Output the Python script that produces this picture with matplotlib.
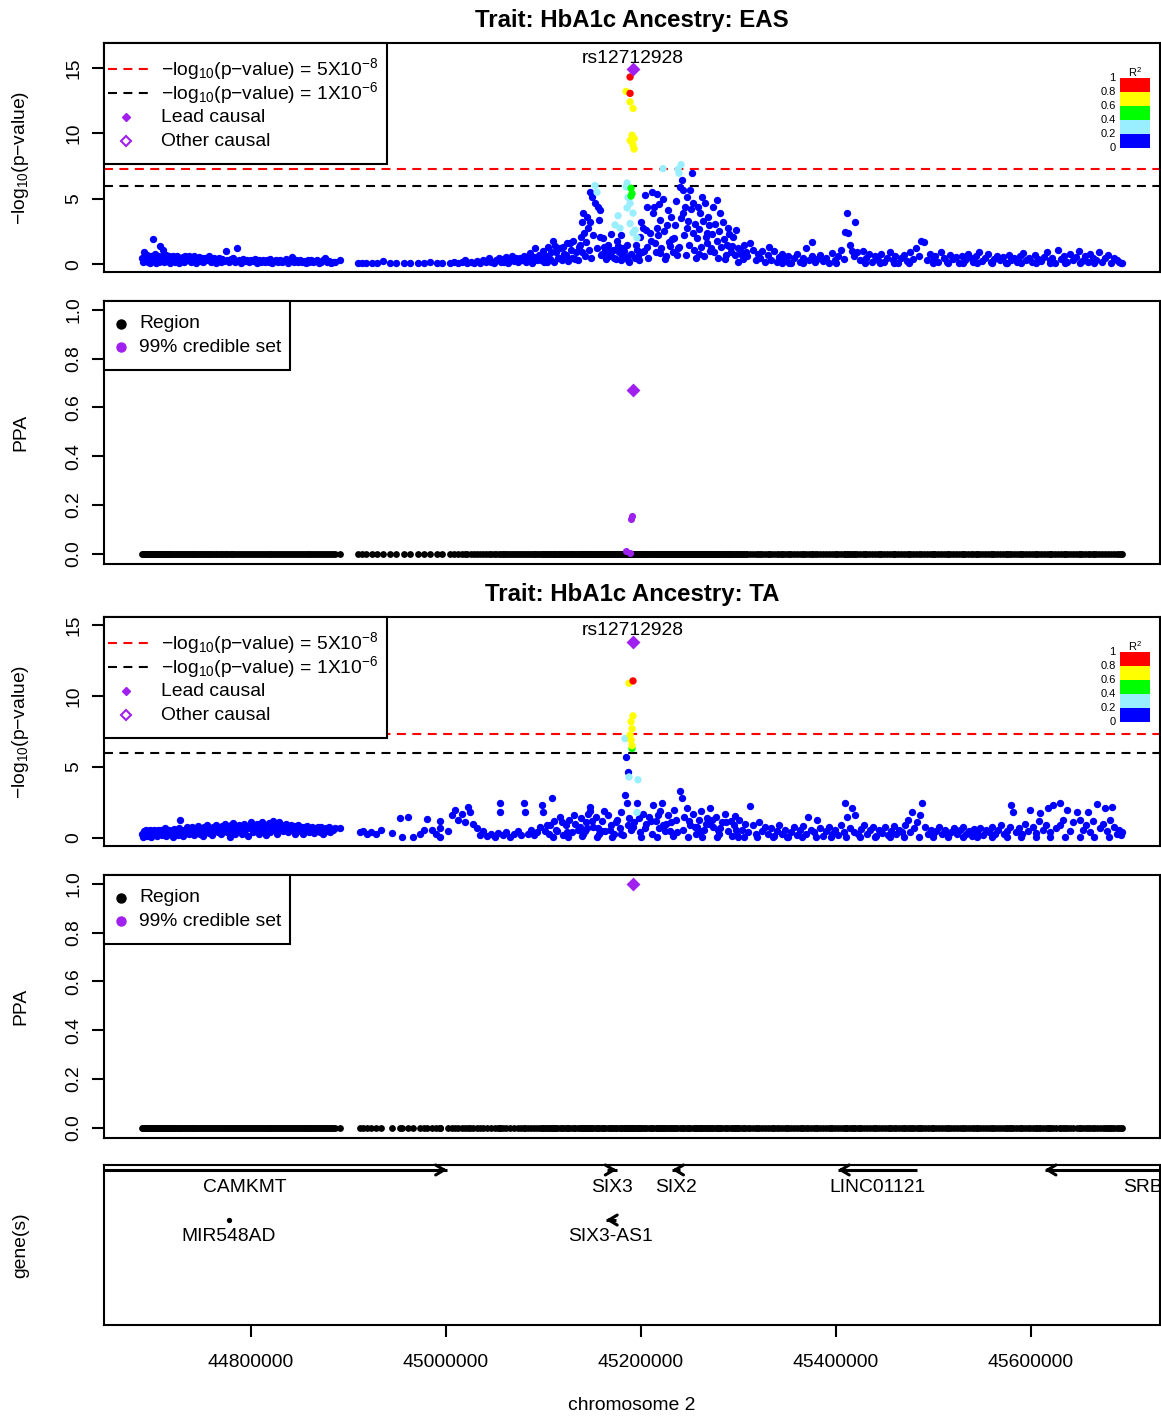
import numpy as np
import matplotlib
matplotlib.use('Agg')
import matplotlib.pyplot as plt
from matplotlib.patches import Rectangle

plt.rcParams['font.family'] = ['Liberation Sans', 'DejaVu Sans']
plt.rcParams['mathtext.fontset'] = 'custom'
plt.rcParams['mathtext.rm'] = 'Liberation Sans'
plt.rcParams['mathtext.it'] = 'Liberation Sans:italic'
plt.rcParams['mathtext.bf'] = 'Liberation Sans:bold'

# ---------------- data (positions in kb, chromosome 2) ----------------
lead_snp = 'rs12712928'
lead_pos = 45191.8

# EAS: SNPs with r2 < 0.2 (blue)
eas_pos = [
    44688, 44689, 44690, 44691, 44692, 44693, 44694, 44695, 44696, 44697,
    44698, 44699, 44700, 44701, 44702, 44703, 44704, 44705, 44706, 44707,
    44708, 44709, 44710, 44711, 44712, 44713, 44714, 44715, 44716, 44717,
    44718, 44719, 44720, 44722, 44723, 44724, 44726, 44727, 44728, 44730,
    44731, 44732, 44734, 44735, 44736, 44738, 44739, 44741, 44742, 44744,
    44745, 44747, 44748, 44750, 44751, 44753, 44754, 44756, 44757, 44759,
    44760, 44762, 44764, 44765, 44767, 44769, 44770, 44772, 44774, 44775,
    44777, 44779, 44781, 44782, 44784, 44786, 44788, 44790, 44792, 44794,
    44796, 44798, 44800, 44802, 44804, 44806, 44808, 44810, 44812, 44814,
    44816, 44818, 44820, 44822, 44824, 44826, 44828, 44830, 44832, 44834,
    44836, 44838, 44840, 44842, 44844, 44846, 44848, 44850, 44852, 44854,
    44856, 44858, 44860, 44862, 44864, 44866, 44868, 44870, 44872, 44874,
    44876, 44878, 44880, 44882, 44884, 44886, 44891, 44910, 44914, 44918,
    44924, 44929, 44935, 44943, 44949, 44957, 44963, 44971, 44977, 44984,
    44991, 44996, 45004, 45008, 45012, 45016, 45019, 45022, 45026, 45029,
    45032, 45035, 45038, 45041, 45044, 45046, 45049, 45051, 45054, 45056,
    45058, 45060, 45062, 45064, 45066, 45068, 45070, 45072, 45074, 45076,
    45078, 45080, 45082, 45084, 45086, 45088, 45090, 45091, 45093, 45095,
    45097, 45099, 45101, 45103, 45105, 45107, 45110, 45111, 45113, 45115,
    45117, 45119, 45120, 45123, 45125, 45127, 45129, 45130, 45133, 45135,
    45137, 45138, 45139, 45141, 45143, 45145, 45147, 45148, 45150, 45153,
    45148, 45156, 45158, 45158, 45160, 45162, 45164, 45166, 45168, 45170,
    45165, 45172, 45175, 45177, 45180, 45182, 45184, 45186, 45188, 45190,
    45194, 45196, 45199, 45202, 45204, 45206, 45206, 45209, 45211, 45212,
    45216, 45216, 45219, 45220, 45223, 45227, 45230, 45235, 45237, 45240,
    45242, 45243, 45243, 45245, 45247, 45247, 45250, 45252, 45253, 45253,
    45258, 45261, 45263, 45266, 45268, 45268, 45269, 45274, 45278, 45278,
    45281, 45284, 45289, 45294, 45297, 45300, 45303, 45306, 45309, 45312,
    45198, 45201, 45214, 45225, 45232, 45238, 45256, 45271, 45286, 45291,
    45296, 45299, 45302, 45305, 45308, 45315, 45318, 45320, 45322, 45324,
    45100, 45104, 45108, 45112, 45116, 45121, 45124, 45128, 45132, 45136,
    45140, 45142, 45144, 45146, 45149, 45151, 45155, 45157, 45159, 45161,
    45163, 45167, 45169, 45171, 45174, 45176, 45179, 45181, 45183, 45187,
    45195, 45197, 45200, 45203, 45205, 45207, 45210, 45213, 45215, 45217,
    45218, 45221, 45224, 45226, 45228, 45229, 45231, 45233, 45234, 45236,
    45239, 45241, 45244, 45246, 45248, 45249, 45251, 45254, 45255, 45257,
    45259, 45260, 45262, 45264, 45265, 45267, 45270, 45272, 45273, 45275,
    45276, 45279, 45280, 45282, 45285, 45287, 45288, 45290, 45292, 45293,
    45327, 45330, 45333, 45336, 45339, 45342, 45345, 45348, 45351, 45354,
    45357, 45360, 45363, 45366, 45369, 45372, 45375, 45378, 45381, 45384,
    45387, 45390, 45393, 45396, 45399, 45402, 45405, 45408, 45409, 45411,
    45412, 45414, 45416, 45418, 45420, 45422, 45425, 45428, 45431, 45434,
    45437, 45440, 45443, 45446, 45449, 45452, 45455, 45458, 45461, 45464,
    45467, 45470, 45473, 45476, 45479, 45482, 45485, 45487, 45490, 45493,
    45496, 45499, 45502, 45505, 45508, 45511, 45514, 45517, 45520, 45523,
    45526, 45529, 45532, 45535, 45538, 45541, 45544, 45547, 45550, 45553,
    45556, 45559, 45562, 45565, 45568, 45571, 45574, 45577, 45580, 45583,
    45586, 45589, 45592, 45595, 45598, 45601, 45604, 45607, 45610, 45613,
    45616, 45619, 45622, 45625, 45628, 45631, 45634, 45637, 45640, 45643,
    45646, 45649, 45652, 45655, 45658, 45661, 45664, 45667, 45670, 45673,
    45676, 45679, 45682, 45685, 45688, 45690, 45692, 45693, 45331, 45345,
    45352, 45366, 45375, 45400, 45430, 45445, 45460, 45475, 45500, 45515,
    45530, 45545, 45560, 45575, 45590, 45605, 45620, 45635, 45650, 45665,
]
eas_logp = [
    0.45, 0.15, 0.95, 0.6, 0.3, 0.7, 0.2, 0.5, 0.1, 0.65,
    0.35, 1.9, 0.55, 0.25, 0.75, 0.1, 0.45, 0.6, 0.2, 1.4,
    0.3, 0.65, 1.05, 0.15, 0.5, 0.7, 0.25, 0.4, 0.6, 0.1,
    0.55, 0.3, 0.65, 0.2, 0.45, 0.6, 0.1, 0.5, 0.35, 0.55,
    0.15, 0.6, 0.3, 0.45, 0.65, 0.2, 0.5, 0.35, 0.6, 0.1,
    0.4, 0.55, 0.25, 0.45, 0.15, 0.5, 0.3, 0.4, 0.6, 0.2,
    0.35, 0.45, 0.1, 0.3, 0.5, 0.2, 0.4, 0.25, 1.0, 0.35,
    0.15, 0.4, 0.3, 0.45, 0.2, 1.2, 0.35, 0.1, 0.4, 0.25,
    0.3, 0.15, 0.35, 0.25, 0.4, 0.1, 0.3, 0.2, 0.35, 0.15,
    0.3, 0.2, 0.4, 0.1, 0.25, 0.35, 0.15, 0.3, 0.2, 0.25,
    0.4, 0.1, 0.25, 0.55, 0.2, 0.3, 0.15, 0.35, 0.2, 0.25,
    0.1, 0.3, 0.2, 0.35, 0.15, 0.25, 0.3, 0.1, 0.2, 0.3,
    0.45, 0.15, 0.25, 0.1, 0.2, 0.15, 0.35, 0.05, 0.08, 0.05,
    0.1, 0.06, 0.25, 0.05, 0.08, 0.06, 0.1, 0.05, 0.07, 0.2,
    0.05, 0.1, 0.1, 0.2, 0.05, 0.15, 0.3, 0.1, 0.2, 0.05,
    0.25, 0.1, 0.35, 0.15, 0.45, 0.2, 0.1, 0.3, 0.5, 0.15,
    0.4, 0.2, 0.55, 0.1, 0.35, 0.6, 0.25, 0.45, 0.15, 0.5,
    0.3, 0.65, 0.2, 0.45, 0.85, 0.1, 0.55, 1.2, 0.35, 0.7,
    0.3, 1.0, 0.15, 0.6, 1.3, 0.4, 1.8, 0.2, 0.9, 0.5,
    1.2, 0.35, 1.3, 0.7, 0.25, 1.6, 0.5, 1.8, 0.9, 0.3,
    1.5, 2.1, 3.2, 3.9, 0.6, 3.6, 1.1, 5.5, 5.1, 4.7,
    3.2, 4.35, 4.1, 2.1, 0.8, 1.3, 0.4, 1.5, 0.7, 1.0,
    1.3, 0.5, 1.8, 0.9, 0.3, 1.2, 0.6, 1.5, 0.2, 0.8,
    0.5, 1.1, 2.1, 2.8, 5.3, 4.35, 1.3, 2.4, 5.5, 3.9,
    5.35, 2.8, 3.4, 0.85, 5.0, 3.0, 1.4, 3.0, 0.7, 5.9,
    6.4, 5.65, 3.9, 4.35, 5.1, 2.8, 5.65, 7.0, 4.65, 2.4,
    4.35, 3.9, 5.1, 4.65, 2.4, 1.6, 3.6, 4.35, 4.9, 1.8,
    3.9, 3.2, 2.8, 2.1, 2.6, 1.2, 0.8, 1.5, 0.6, 1.6,
    0.3, 0.9, 1.6, 0.4, 1.9, 1.2, 0.5, 1.0, 0.4, 1.3,
    0.7, 0.2, 1.1, 0.4, 0.9, 1.07, 0.3, 0.8, 0.5, 1.0,
    0.6, 0.2, 0.9, 1.4, 0.5, 0.8, 1.6, 1.1, 0.4, 1.3,
    0.9, 2.4, 1.7, 2.8, 0.5, 2.2, 1.2, 3.4, 0.7, 2.0,
    1.0, 0.6, 2.3, 1.1, 0.4, 1.4, 2.2, 0.7, 1.0, 0.3,
    1.5, 0.6, 3.2, 1.0, 2.6, 0.5, 1.8, 4.4, 0.9, 2.2,
    4.6, 1.2, 2.5, 0.6, 4.1, 1.7, 3.6, 0.9, 2.0, 4.8,
    1.3, 3.5, 2.2, 0.7, 3.3, 1.5, 4.2, 1.1, 3.1, 2.0,
    0.8, 2.7, 1.3, 3.3, 0.6, 2.1, 3.0, 1.2, 2.3, 0.9,
    3.1, 0.5, 2.5, 1.3, 1.9, 0.7, 1.5, 2.3, 0.9, 1.4,
    0.2, 0.7, 0.35, 1.0, 0.15, 0.55, 0.8, 0.3, 0.6, 0.1,
    0.45, 0.75, 0.2, 0.5, 1.2, 0.3, 0.6, 0.15, 0.4, 0.7,
    0.25, 0.5, 0.1, 0.85, 0.3, 0.6, 1.1, 0.4, 2.45, 3.9,
    2.4, 1.5, 1.0, 0.6, 3.2, 0.9, 0.3, 1.0, 0.5, 0.8,
    0.2, 0.6, 0.35, 0.75, 0.15, 0.5, 0.9, 0.3, 0.65, 0.1,
    0.45, 0.7, 0.25, 0.9, 0.4, 1.2, 0.6, 1.8, 1.7, 0.3,
    0.8, 0.35, 0.6, 0.15, 0.9, 0.5, 0.2, 0.7, 0.4, 0.55,
    0.1, 0.65, 0.3, 0.8, 0.45, 0.2, 0.6, 0.9, 0.25, 0.5,
    0.75, 0.15, 0.4, 0.65, 0.3, 0.55, 0.1, 0.7, 0.35, 0.5,
    0.2, 0.6, 0.85, 0.3, 0.45, 0.15, 0.7, 0.4, 0.25, 0.55,
    0.9, 0.3, 0.5, 0.1, 1.1, 0.4, 0.65, 0.2, 0.75, 0.35,
    0.55, 1.0, 0.25, 0.6, 0.15, 0.8, 0.45, 0.3, 0.95, 0.2,
    0.5, 0.7, 0.1, 0.45, 0.3, 0.15, 0.05, 0.1, 1.3, 0.05,
    0.05, 0.1, 1.7, 0.05, 0.1, 0.05, 0.1, 0.05, 0.05, 0.1,
    0.05, 0.1, 0.05, 0.1, 0.05, 0.1, 0.05, 0.1, 0.05, 0.1,
]
# EAS: SNPs in LD with the lead
eas_ld_pos = [45152.8, 45154.9, 45185.7, 45184.7, 45186.7, 45188.8, 45185.7, 45176.5,
              45191.8, 45188.8, 45173.4, 45178.5, 45193.9, 45195.9, 45191.8, 45222.6,
              45241.1, 45238.0, 45239.0, 45189.8, 45190.8, 45189.8, 45184.7, 45188.8,
              45191.8, 45190.8, 45192.9, 45188.8, 45191.8, 45192.9, 45188.8, 45188.8]
eas_ld_logp = [6.0, 5.5, 6.2, 5.9, 5.1, 4.65, 4.3, 3.7,
               3.9, 3.1, 3.0, 2.75, 2.6, 2.0, 2.4, 7.3,
               7.6, 7.25, 6.95, 5.8, 5.4, 5.2, 13.2, 12.4,
               11.9, 9.85, 9.6, 9.45, 9.1, 8.8, 14.3, 13.05]
eas_ld_r2 = [0.3, 0.3, 0.3, 0.3, 0.3, 0.3, 0.3, 0.3,
             0.3, 0.3, 0.3, 0.3, 0.3, 0.3, 0.3, 0.3,
             0.3, 0.3, 0.3, 0.5, 0.5, 0.5, 0.7, 0.7,
             0.7, 0.7, 0.7, 0.7, 0.7, 0.7, 0.9, 0.9]
eas_lead_logp = 14.9
eas_lead_ppa = 0.67
eas_cs_pos = [45185.0, 45188.5, 45189.5, 45190.8]
eas_cs_ppa = [0.012, 0.004, 0.14, 0.156]

# TA: SNPs with r2 < 0.2 (blue)
ta_pos = [
    44688, 44689, 44690, 44691, 44692, 44693, 44694, 44695, 44696, 44697,
    44698, 44699, 44700, 44701, 44702, 44703, 44704, 44705, 44706, 44707,
    44708, 44709, 44710, 44711, 44712, 44713, 44714, 44715, 44716, 44717,
    44718, 44719, 44720, 44721, 44722, 44723, 44725, 44726, 44727, 44728,
    44730, 44731, 44733, 44734, 44736, 44737, 44739, 44740, 44742, 44743,
    44745, 44746, 44748, 44749, 44751, 44752, 44754, 44755, 44757, 44758,
    44760, 44761, 44763, 44764, 44766, 44767, 44769, 44770, 44772, 44773,
    44775, 44776, 44778, 44779, 44781, 44782, 44784, 44785, 44787, 44788,
    44790, 44791, 44793, 44794, 44796, 44797, 44799, 44800, 44802, 44803,
    44805, 44806, 44808, 44809, 44811, 44812, 44814, 44815, 44817, 44818,
    44820, 44821, 44823, 44824, 44826, 44827, 44829, 44830, 44832, 44833,
    44835, 44836, 44838, 44839, 44841, 44842, 44844, 44845, 44847, 44848,
    44850, 44851, 44853, 44854, 44856, 44857, 44859, 44860, 44862, 44863,
    44865, 44866, 44868, 44869, 44871, 44872, 44874, 44875, 44877, 44878,
    44880, 44881, 44883, 44884, 44886, 44891, 44912, 44915, 44919, 44923,
    44928, 44933, 44945, 44953, 44955, 44961, 44966, 44973, 44977, 44981,
    44986, 44990, 44994, 44994, 44994, 45002, 45006, 45009, 45012, 45016,
    45019, 45023, 45025, 45028, 45032, 45035, 45038, 45042, 45046, 45050,
    45053, 45055, 45055, 45058, 45062, 45066, 45070, 45074, 45077, 45080,
    45081, 45084, 45087, 45090, 45093, 45096, 45098, 45100, 45102, 45104,
    45106, 45109, 45111, 45114, 45117, 45120, 45123, 45126, 45129, 45132,
    45135, 45138, 45141, 45144, 45146, 45148, 45148, 45151, 45154, 45157,
    45160, 45163, 45166, 45169, 45172, 45175, 45178, 45180, 45184, 45186,
    45188, 45190, 45193, 45196, 45199, 45202, 45205, 45208, 45211, 45212,
    45215, 45218, 45220, 45222, 45225, 45228, 45231, 45234, 45237, 45240,
    45242, 45244, 45247, 45250, 45253, 45256, 45259, 45262, 45265, 45268,
    45271, 45274, 45277, 45280, 45283, 45286, 45289, 45292, 45295, 45298,
    45301, 45304, 45307, 45310, 45312, 45315, 45318, 45321, 45324, 45327,
    45110, 45125, 45140, 45155, 45170, 45182, 45200, 45216, 45233, 45248,
    45263, 45278, 45293, 45306, 45319, 45145, 45160, 45187, 45226, 45257,
    45107, 45113, 45119, 45124, 45131, 45137, 45143, 45150, 45156, 45162,
    45168, 45174, 45179, 45192, 45198, 45204, 45210, 45217, 45223, 45230,
    45236, 45243, 45249, 45255, 45261, 45267, 45273, 45281, 45287, 45297,
    45330, 45333, 45336, 45339, 45342, 45345, 45348, 45351, 45354, 45357,
    45360, 45363, 45366, 45369, 45371, 45374, 45377, 45381, 45384, 45387,
    45390, 45393, 45396, 45399, 45402, 45405, 45408, 45409, 45411, 45414,
    45416, 45418, 45420, 45423, 45426, 45429, 45432, 45435, 45438, 45441,
    45444, 45447, 45450, 45453, 45456, 45459, 45462, 45465, 45468, 45471,
    45474, 45476, 45478, 45480, 45483, 45486, 45488, 45491, 45494, 45497,
    45500, 45503, 45506, 45509, 45512, 45515, 45518, 45521, 45524, 45527,
    45530, 45533, 45536, 45539, 45542, 45545, 45548, 45551, 45554, 45557,
    45560, 45563, 45566, 45569, 45572, 45575, 45578, 45580, 45582, 45585,
    45588, 45591, 45594, 45597, 45599, 45602, 45605, 45608, 45609, 45612,
    45615, 45617, 45620, 45623, 45626, 45630, 45630, 45633, 45637, 45640,
    45643, 45647, 45650, 45653, 45656, 45658, 45661, 45664, 45668, 45671,
    45674, 45676, 45678, 45681, 45683, 45685, 45688, 45690, 45692, 45693,
    45335, 45350, 45365, 45380, 45395, 45410, 45425, 45440, 45455, 45470,
    45485, 45500, 45515, 45530, 45545, 45560, 45575, 45590, 45605, 45620,
    45635, 45650, 45665, 45680, 45296, 45270, 45185, 45187, 45279, 45300,
]
ta_logp = [
    0.3, 0.1, 0.5, 0.2, 0.6, 0.15, 0.4, 0.25, 0.55, 0.1,
    0.35, 0.5, 0.2, 0.6, 0.3, 0.45, 0.15, 0.55, 0.25, 0.4,
    0.6, 0.2, 0.5, 0.35, 0.7, 0.15, 0.45, 0.3, 0.6, 0.25,
    0.5, 0.4, 0.1, 0.65, 0.3, 0.55, 0.2, 0.7, 1.27, 0.45,
    0.15, 0.6, 0.35, 0.75, 0.25, 0.55, 0.4, 0.8, 0.2, 0.65,
    0.45, 0.85, 0.3, 0.6, 0.15, 0.75, 0.5, 0.9, 0.35, 0.65,
    0.2, 0.8, 0.55, 0.95, 0.4, 0.7, 0.25, 0.85, 0.6, 1.0,
    0.45, 0.75, 0.1, 0.9, 0.6, 1.05, 0.3, 0.8, 0.5, 0.95,
    0.65, 0.25, 1.0, 0.55, 0.85, 0.15, 0.7, 1.1, 0.4, 0.9,
    0.6, 1.0, 0.3, 0.8, 1.15, 0.5, 0.9, 0.2, 0.75, 1.05,
    0.45, 0.95, 1.2, 0.6, 0.85, 0.3, 1.1, 0.7, 0.9, 0.5,
    0.8, 1.0, 0.4, 0.75, 0.95, 0.55, 0.85, 0.25, 0.7, 0.9,
    0.5, 0.8, 0.3, 0.75, 0.6, 0.85, 0.4, 0.7, 0.55, 0.8,
    0.35, 0.7, 0.6, 0.8, 0.45, 0.75, 0.3, 0.65, 0.7, 0.5,
    0.75, 0.4, 0.65, 0.55, 0.7, 0.7, 0.4, 0.5, 0.3, 0.45,
    0.3, 0.55, 0.35, 1.4, 0.05, 1.5, 0.1, 0.3, 0.6, 1.35,
    0.55, 0.3, 1.2, 0.7, 0.1, 0.5, 1.6, 2.0, 1.3, 1.7,
    1.1, 2.2, 1.8, 1.0, 0.7, 0.2, 0.5, 0.15, 0.3, 0.1,
    0.35, 2.45, 1.85, 0.2, 0.4, 0.1, 0.3, 0.5, 0.2, 2.45,
    1.85, 0.3, 0.6, 0.2, 0.45, 0.8, 2.3, 1.8, 0.5, 0.9,
    0.3, 2.8, 1.2, 0.5, 1.5, 0.2, 0.9, 1.3, 0.4, 1.0,
    0.6, 1.4, 0.3, 1.1, 1.7, 2.2, 1.9, 0.8, 1.5, 0.25,
    1.2, 0.5, 1.6, 0.9, 0.3, 1.3, 0.7, 1.8, 3.0, 2.5,
    1.4, 0.6, 1.1, 2.5, 0.4, 1.7, 1.0, 1.5, 0.3, 2.3,
    1.2, 0.7, 1.9, 2.5, 0.5, 1.6, 1.1, 2.0, 0.4, 3.3,
    2.8, 1.5, 2.1, 0.9, 1.7, 0.3, 1.3, 1.9, 0.6, 1.4,
    2.1, 0.8, 1.5, 0.3, 1.1, 1.7, 0.5, 1.2, 0.9, 0.2,
    1.3, 0.6, 1.0, 0.4, 2.25, 0.9, 0.3, 1.1, 0.5, 0.8,
    0.1, 0.05, 0.15, 0.1, 0.05, 0.2, 0.1, 0.05, 0.15, 0.1,
    0.05, 0.1, 0.15, 0.05, 0.1, 0.7, 0.5, 0.9, 1.0, 0.8,
    0.9, 0.6, 1.1, 0.4, 1.6, 0.8, 0.5, 1.2, 0.7, 1.9,
    0.6, 1.1, 0.3, 0.8, 1.4, 0.7, 1.2, 1.6, 0.9, 0.5,
    1.3, 0.6, 1.2, 0.8, 0.5, 1.0, 1.3, 0.7, 1.1, 0.6,
    0.3, 0.7, 0.15, 0.5, 0.9, 0.25, 0.6, 0.1, 0.45, 0.75,
    0.2, 0.55, 0.85, 0.3, 1.5, 0.6, 0.4, 1.3, 0.7, 0.15,
    0.5, 0.8, 0.3, 0.6, 0.2, 0.9, 0.45, 2.45, 1.5, 0.7,
    2.1, 0.4, 1.6, 0.25, 0.65, 0.9, 0.3, 0.55, 0.8, 0.15,
    0.6, 0.35, 0.75, 0.2, 0.5, 0.85, 0.3, 0.6, 0.45, 0.9,
    1.3, 0.4, 1.8, 0.7, 1.1, 1.6, 2.45, 0.8, 0.3, 0.6,
    0.2, 0.5, 0.75, 0.3, 0.6, 0.15, 0.45, 0.7, 0.25, 0.55,
    0.8, 0.3, 0.5, 0.15, 0.65, 0.35, 0.7, 0.2, 0.55, 0.4,
    0.75, 0.25, 0.6, 0.9, 0.3, 0.5, 0.8, 2.3, 1.85, 0.4,
    0.7, 0.3, 1.0, 0.5, 2.0, 0.8, 0.35, 1.2, 1.75, 0.6,
    0.9, 2.1, 0.4, 2.3, 0.7, 2.45, 0.9, 1.3, 2.0, 0.5,
    1.1, 1.85, 1.3, 0.6, 0.9, 1.85, 0.4, 1.2, 2.4, 0.7,
    1.0, 2.1, 0.5, 1.3, 2.2, 0.8, 0.3, 0.6, 0.2, 0.4,
    0.05, 0.1, 0.05, 0.1, 0.05, 0.1, 0.05, 0.1, 0.05, 0.1,
    0.05, 0.1, 0.05, 0.1, 0.05, 0.1, 0.05, 0.1, 0.05, 0.1,
    0.05, 0.1, 0.05, 0.1, 1.55, 1.0, 5.7, 4.65, 0.6, 0.1,
]
ta_ld_pos = [45183.6, 45187.7, 45196.9, 45195.9, 45190.8, 45187.7, 45191.8,
             45189.8, 45190.8, 45188.8, 45189.8, 45190.8, 45191.8]
ta_ld_logp = [7.0, 4.3, 4.1, 1.8, 6.3, 10.9, 8.6, 8.2, 7.7, 7.25, 6.9, 6.5, 11.06]
ta_ld_r2 = [0.3, 0.3, 0.3, 0.3, 0.5, 0.7, 0.7, 0.7, 0.7, 0.7, 0.7, 0.7, 0.9]
ta_lead_logp = 13.8
ta_lead_ppa = 1.0

# genes
gene_names = ['CAMKMT', 'SIX3', 'SIX2', 'LINC01121', 'SRBD1', 'MIR548AD', 'SIX3-AS1']
gene_start = [44587, 45165, 45232, 45402, 45614, 44777.3, 45164]
gene_end = [45001, 45175, 45240, 45483, 45841, 44777.5, 45174]
gene_strand = ['+', '+', '-', '-', '-', '+', '-']
gene_row = [1, 1, 1, 1, 1, 2, 2]

xticks = [44800000, 45000000, 45200000, 45400000, 45600000]

# ---------------- styling ----------------
FS = 13.9
PURPLE = '#A020F0'
R2_COLS = ['#0000FF', '#99EEFF', '#00FF00', '#FFFF00', '#FF0000']
DASH = (0, (4.3, 3.1))
XLIM = (44649231, 45732308)
W, H = 1161, 1418
AX_L, AX_R = 104, 1160

fig = plt.figure(figsize=(11.61, 14.18), dpi=100)


def add_axes_px(x0, y0, x1, y1):
    ax = fig.add_axes([x0 / W, 1 - y1 / H, (x1 - x0) / W, (y1 - y0) / H])
    ax.px_top, ax.px_bot = y0, y1
    return ax


def ax_xy(ax, x, y):
    # figure pixel -> axes fraction
    return (x - AX_L) / (AX_R - AX_L), (ax.px_bot - y) / (ax.px_bot - ax.px_top)


def base_style(ax):
    for s in ax.spines.values():
        s.set_linewidth(1.5)
    ax.set_xlim(XLIM)
    ax.tick_params(axis='both', length=8.6, width=1.5, labelsize=FS)
    ax.tick_params(axis='y', pad=7)
    ax.set_xticks([])


def set_rot_yticks(ax, ticks, labels):
    ax.set_yticks(ticks)
    ax.set_yticklabels(labels, rotation=90, va='center')


def legend_box(ax, x1, height):
    x0, y0 = ax_xy(ax, AX_L, ax.px_top + height)
    xr, yt = ax_xy(ax, x1, ax.px_top)
    ax.add_patch(Rectangle((x0, y0), xr - x0, yt - y0, transform=ax.transAxes,
                           fc='white', ec='black', lw=1.5, zorder=5, clip_on=False))


def manhattan(ax, pos, logp, ld_pos, ld_logp, ld_r2, lead_logp, ylim):
    base_style(ax)
    ax.set_ylim(ylim)
    set_rot_yticks(ax, [0, 5, 10, 15], ['0', '5', '10', '15'])
    ax.axhline(-np.log10(5e-8), color='red', ls=DASH, lw=1.5, zorder=1)
    ax.axhline(-np.log10(1e-6), color='black', ls=DASH, lw=1.5, zorder=1)
    ax.scatter(np.array(pos) * 1000, logp, s=28, c=R2_COLS[0], lw=0, zorder=2)
    idx = np.digitize(ld_r2, [0.2, 0.4, 0.6, 0.8])
    ax.scatter(np.array(ld_pos) * 1000, ld_logp, s=28,
               c=[R2_COLS[i] for i in idx], lw=0, zorder=3)
    ax.scatter([lead_pos * 1000], [lead_logp], marker='D', s=50, c=PURPLE, lw=0, zorder=4)
    ax.annotate(lead_snp, (lead_pos * 1000, lead_logp), xytext=(0, 8),
                textcoords='offset points', ha='center', va='center', fontsize=FS)

    # legend (drawn as in the R plot)
    legend_box(ax, 387, 121)
    tr = ax.transAxes
    rows = [ax.px_top + 26, ax.px_top + 50, ax.px_top + 74, ax.px_top + 98]
    labels = ['\u2212log$_{10}$(p\u2212value) = 5X10$^{-8}$',
              '\u2212log$_{10}$(p\u2212value) = 1X10$^{-6}$',
              'Lead causal', 'Other causal']
    for k, (ry, lab) in enumerate(zip(rows, labels)):
        xa, ya = ax_xy(ax, 108, ry)
        xb, _ = ax_xy(ax, 150, ry)
        xm, _ = ax_xy(ax, 126, ry)
        if k < 2:
            ax.plot([xa, xb], [ya, ya], transform=tr, color=['red', 'black'][k],
                    ls=DASH, lw=1.5, zorder=6, clip_on=False)
        elif k == 2:
            ax.plot([xm], [ya], transform=tr, ls='none', marker='D', ms=3.6,
                    mfc=PURPLE, mec=PURPLE, zorder=6, clip_on=False)
        else:
            ax.plot([xm], [ya], transform=tr, ls='none', marker='D', ms=5.5,
                    mfc='none', mec=PURPLE, mew=1.5, zorder=6, clip_on=False)
        xt, _ = ax_xy(ax, 161, ry)
        ax.text(xt, ya, lab, transform=tr, ha='left', va='center', fontsize=FS, zorder=6)

    # R2 colour key
    x0, w, y0, h = 0.9621, 0.0284, 0.5415, 0.0611
    for i, col in enumerate(R2_COLS):
        ax.add_patch(Rectangle((x0, y0 + i * h), w, h, transform=tr,
                               fc=col, ec='none', zorder=6))
    for i, t in enumerate(['0', '0.2', '0.4', '0.6', '0.8', '1']):
        ax.text(0.958, y0 + i * h, t, transform=tr, ha='right',
                va='center', fontsize=8, zorder=6)
    ax.text(0.9763, 0.873, 'R$^2$', transform=tr, ha='center',
            va='center', fontsize=8, zorder=6)


def ppa_panel(ax, region_pos, cs_pos, cs_ppa, lead_ppa):
    base_style(ax)
    ax.set_ylim(-0.043, 1.037)
    set_rot_yticks(ax, [0, 0.2, 0.4, 0.6, 0.8, 1.0],
                   ['0.0', '0.2', '0.4', '0.6', '0.8', '1.0'])
    ax.scatter(np.array(region_pos) * 1000, np.zeros(len(region_pos)),
               s=24, c='black', lw=0, zorder=2)
    if cs_pos:
        ax.scatter(np.array(cs_pos) * 1000, cs_ppa, s=26, c=PURPLE, lw=0, zorder=3)
    ax.scatter([lead_pos * 1000], [lead_ppa], marker='D', s=50, c=PURPLE, lw=0, zorder=4)

    legend_box(ax, 290, 69)
    tr = ax.transAxes
    for ry, col, lab in [(ax.px_top + 23, 'black', 'Region'),
                         (ax.px_top + 46, PURPLE, '99% credible set')]:
        xm, ym = ax_xy(ax, 121, ry)
        ax.plot([xm], [ym], transform=tr, ls='none', marker='o', ms=6.5,
                mfc=col, mec=col, zorder=6, clip_on=False)
        xt, _ = ax_xy(ax, 139, ry)
        ax.text(xt, ym, lab, transform=tr, ha='left', va='center', fontsize=FS, zorder=6)


# ---------------- panels ----------------
ax1 = add_axes_px(AX_L, 43, AX_R, 272)
manhattan(ax1, eas_pos, eas_logp, eas_ld_pos, eas_ld_logp, eas_ld_r2,
          eas_lead_logp, (-0.6, 16.9))

ax2 = add_axes_px(AX_L, 301, AX_R, 564)
ppa_panel(ax2, eas_pos + eas_ld_pos, eas_cs_pos, eas_cs_ppa, eas_lead_ppa)

ax3 = add_axes_px(AX_L, 617, AX_R, 846)
manhattan(ax3, ta_pos, ta_logp, ta_ld_pos, ta_ld_logp, ta_ld_r2,
          ta_lead_logp, (-0.56, 15.56))

ax4 = add_axes_px(AX_L, 875, AX_R, 1138)
ppa_panel(ax4, ta_pos + ta_ld_pos, [], [], ta_lead_ppa)

# gene track
ax5 = add_axes_px(AX_L, 1165, AX_R, 1325)
base_style(ax5)
ax5.set_ylim(0, 1)
ax5.set_yticks([])
ax5.set_xticks(xticks)
ax5.set_xticklabels([str(t) for t in xticks])
ax5.tick_params(axis='x', pad=12)
row_line_y = {1: 0.969, 2: 0.656}
row_text_y = {1: 0.862, 2: 0.556}
for name, s, e, strand, row in zip(gene_names, gene_start, gene_end, gene_strand, gene_row):
    y = row_line_y[row]
    s_bp, e_bp = s * 1000, e * 1000
    if e - s < 1:
        ax5.plot([(s_bp + e_bp) / 2], [y], marker='o', ms=2.8, color='black')
    else:
        ax5.plot([s_bp, e_bp], [y, y], color='black', lw=2.2, solid_capstyle='butt')
        if strand == '+':
            head, tail = e_bp, e_bp - 6000
        else:
            head, tail = s_bp, s_bp + 6000
        ax5.annotate('', xy=(head, y), xytext=(tail, y),
                     arrowprops=dict(arrowstyle='->,head_length=0.5,head_width=0.3',
                                     color='black', lw=2.2, shrinkA=0, shrinkB=0,
                                     mutation_scale=12))
    ax5.text((s_bp + e_bp) / 2, row_text_y[row], name, ha='center', va='center',
             fontsize=FS, clip_on=True)

# titles and axis labels
fig.text(632 / W, 1 - 20 / H, 'Trait: HbA1c Ancestry: EAS', ha='center', va='center',
         fontsize=17.3, fontweight='bold')
fig.text(632 / W, 1 - 594 / H, 'Trait: HbA1c Ancestry: TA', ha='center', va='center',
         fontsize=17.3, fontweight='bold')
ylab = '\u2212log$_{10}$(p\u2212value)'
for ytxt, lab in [(157.5, ylab), (432.5, 'PPA'), (731.5, ylab), (1006.5, 'PPA'),
                  (1245, 'gene(s)')]:
    fig.text(21 / W, 1 - ytxt / H, lab, rotation=90, ha='center', va='center', fontsize=FS)
fig.text(632 / W, 1 - 1406 / H, 'chromosome 2', ha='center', va='center', fontsize=FS)

fig.savefig('out.png', dpi=100, facecolor='white')
